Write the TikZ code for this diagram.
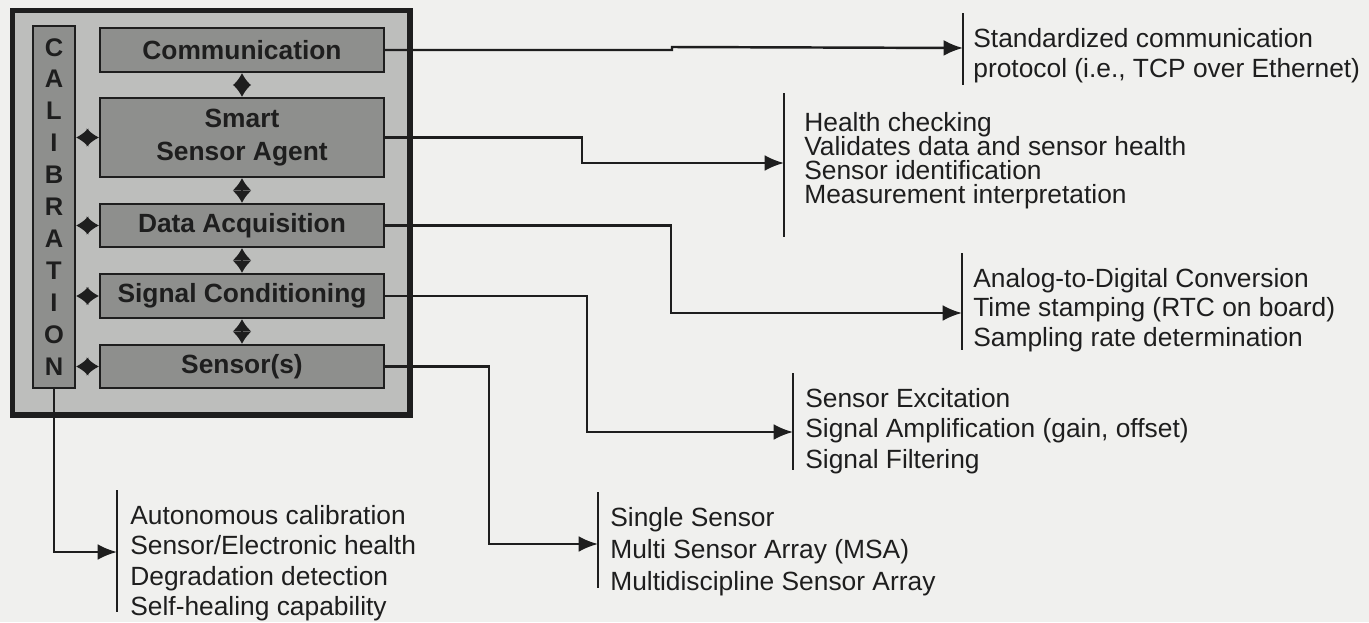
\documentclass[tikz,border=0pt]{standalone}
\usepackage{fontspec}
\setmainfont{Liberation Sans}
\usepackage{tikz}
\usetikzlibrary{arrows.meta,calc}
\definecolor{kagit}{HTML}{F0F0EE}
\definecolor{acikGri}{HTML}{BDBEBC}
\definecolor{koyuGri}{HTML}{8E8F8D}
\definecolor{murekkep}{HTML}{1E1E1E}
\setlength{\lineskiplimit}{-20pt}

\begin{document}
\begin{tikzpicture}[x=0.02cm,y=-0.02cm,
  kutu/.style={draw=murekkep,line width=1.3pt,fill=koyuGri,minimum width=5.68cm,inner sep=0pt,
    font=\bfseries\fontsize{15}{18.8}\selectfont,text=murekkep,align=center},
  liste/.style={anchor=north west,align=left,inner sep=0pt,text=murekkep,
    font=\fontsize{15}{#1}\selectfont},
  bag/.style={draw=murekkep,line width=1.4pt,-{Latex[length=11pt,width=9pt]}},
  cift/.style={draw=murekkep,line width=1.4pt,{Latex[length=7pt,width=11pt]}-{Latex[length=7pt,width=11pt]}},
  ayrac/.style={draw=murekkep,line width=1.5pt}]
\fill[kagit] (0,0) rectangle (1369,622);
\useasboundingbox (0,0) rectangle (1369,622);
\draw[murekkep,line width=3.2pt,fill=acikGri] (12.5,10.5) rectangle (410,415);
\node[kutu,minimum height=0.88cm] (comm) at (242,50) {Communication};
\node[kutu,minimum height=1.58cm] (ssa) at (242,137.5) {Smart\\Sensor Agent};
\node[kutu,minimum height=0.86cm] (daq) at (242,225.5) {Data Acquisition};
\node[kutu,minimum height=0.88cm] (sig) at (242,296) {Signal Conditioning};
\node[kutu,minimum height=0.86cm] (sen) at (242,366.5) {Sensor(s)};
\node[kutu,minimum width=0.84cm,minimum height=7.24cm,font=\bfseries\fontsize{14.5}{18.2}\selectfont]
  (kal) at (54,207) {C\\A\\L\\I\\B\\R\\A\\T\\I\\O\\N};
\draw[cift] (comm.south) -- (ssa.north);
\draw[cift] (ssa.south) -- (daq.north);
\draw[cift] (daq.south) -- (sig.north);
\draw[cift] (sig.south) -- (sen.north);
\draw[cift] (kal.east |- ssa.west) -- (ssa.west);
\draw[cift] (kal.east |- daq.west) -- (daq.west);
\draw[cift] (kal.east |- sig.west) -- (sig.west);
\draw[cift] (kal.east |- sen.west) -- (sen.west);
\node[liste=17.07pt] (l1) at (973,28) {Standardized communication\\protocol (i.e., TCP over Ethernet)};
\node[liste=13.66pt] (l2) at (804,112) {Health checking\\Validates data and sensor health\\Sensor identification\\Measurement interpretation};
\node[liste=16.79pt] (l3) at (973,268) {Analog-to-Digital Conversion\\Time stamping (RTC on board)\\Sampling rate determination};
\node[liste=17.35pt] (l4) at (805,388) {Sensor Excitation\\Signal Amplification (gain, offset)\\Signal Filtering};
\node[liste=17.3pt] (l5) at (130,505) {Autonomous calibration\\Sensor/Electronic health\\Degradation detection\\Self-healing capability};
\node[liste=18.2pt] (l6) at (610,507) {Single Sensor\\Multi Sensor Array (MSA)\\Multidiscipline Sensor Array};
\draw[ayrac] (963,13) -- (963,85);
\draw[ayrac] (784,93) -- (784,237);
\draw[ayrac] (962,253) -- (962,350);
\draw[ayrac] (793,373) -- (793,470);
\draw[ayrac] (117,490) -- (117,612);
\draw[ayrac] (598,492) -- (598,588);
\coordinate (u1) at (963,48);
\coordinate (u2) at (784,163);
\coordinate (u3) at (962,313);
\coordinate (u4) at (793,432);
\coordinate (u5) at (117,552);
\coordinate (u6) at (598,544);
\draw[bag] (comm.east) -- (672,50) -- (672,47) -- (u1);
\draw[bag] (ssa.east) -- (582,137.5) |- (u2);
\draw[bag] (daq.east) -- (671,225.5) |- (u3);
\draw[bag] (sig.east) -- (587,296) |- (u4);
\draw[bag] (sen.east) -- (489,366.5) |- (u6);
\draw[bag] (kal.south) |- (u5);
\end{tikzpicture}
\end{document}
